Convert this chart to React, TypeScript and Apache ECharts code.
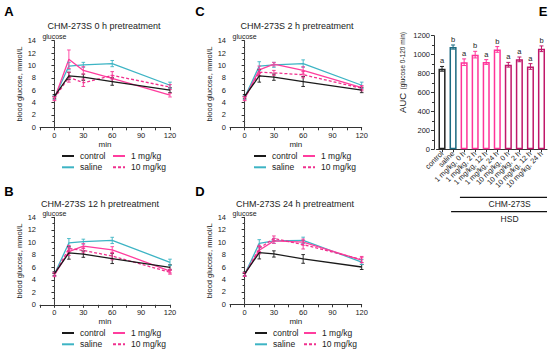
import React, { useEffect, useRef } from "react";
import * as echarts from "echarts";

// ---------- data ----------
const TIMES = [0, 15, 30, 60, 120];
const SERIES_NAMES = ["control", "saline", "1 mg/kg", "10 mg/kg"];
const PANEL_TITLES = [
  "CHM-273S 0 h pretreatment",
  "CHM-273S 2 h pretreatment",
  "CHM-273S 12 h pretreatment",
  "CHM-273S 24 h pretreatment",
];

// panel A (0 h)
const A_CONTROL = [5.0, 8.3, 8.1, 7.4, 6.0];
const A_SALINE = [4.8, 9.9, 10.1, 10.3, 6.8];
const A_1MG = [4.6, 11.0, 9.2, 7.9, 5.2];
const A_10MG = [4.7, 8.1, 7.2, 8.4, 6.5];
const A_CONTROL_SEM = [0.3, 0.6, 0.5, 0.6, 0.4];
const A_SALINE_SEM = [0.3, 0.6, 0.4, 0.5, 0.5];
const A_1MG_SEM = [0.3, 1.5, 0.6, 0.5, 0.3];
const A_10MG_SEM = [0.3, 0.8, 0.6, 0.6, 0.4];

// panel C (2 h)
const C_CONTROL = [5.0, 8.3, 8.1, 7.4, 6.0];
const C_SALINE = [4.8, 9.9, 10.1, 10.3, 6.8];
const C_1MG = [4.6, 9.3, 10.2, 9.2, 6.4];
const C_10MG = [4.7, 8.9, 8.8, 8.5, 6.3];
const C_CONTROL_SEM = [0.3, 1.0, 0.5, 0.8, 0.4];
const C_SALINE_SEM = [0.3, 0.7, 0.4, 0.6, 0.5];
const C_1MG_SEM = [0.3, 0.6, 0.3, 0.6, 0.3];
const C_10MG_SEM = [0.3, 0.5, 0.4, 0.5, 0.4];

// panel B (12 h)
const B_CONTROL = [5.0, 8.3, 8.1, 7.4, 6.0];
const B_SALINE = [4.9, 9.9, 10.1, 10.3, 6.8];
const B_1MG = [4.8, 8.5, 9.4, 8.8, 5.4];
const B_10MG = [4.9, 9.0, 8.7, 7.8, 5.2];
const B_CONTROL_SEM = [0.3, 1.0, 0.5, 0.8, 0.4];
const B_SALINE_SEM = [0.3, 0.7, 0.4, 0.5, 0.5];
const B_1MG_SEM = [0.3, 0.6, 0.4, 0.5, 0.3];
const B_10MG_SEM = [0.3, 0.5, 0.4, 0.6, 0.3];

// panel D (24 h)
const D_CONTROL = [4.9, 8.3, 8.1, 7.3, 6.0];
const D_SALINE = [4.8, 9.8, 10.2, 10.3, 6.8];
const D_1MG = [4.8, 8.7, 10.2, 10.0, 7.1];
const D_10MG = [4.8, 9.0, 10.6, 9.6, 7.2];
const D_CONTROL_SEM = [0.3, 1.0, 0.5, 0.7, 0.4];
const D_SALINE_SEM = [0.3, 0.6, 0.4, 0.5, 0.4];
const D_1MG_SEM = [0.3, 0.6, 0.4, 0.5, 0.4];
const D_10MG_SEM = [0.3, 0.5, 0.4, 0.7, 0.5];

// panel E (AUC)
const AUC_CATEGORIES = [
  "control",
  "saline",
  "1 mg/kg, 0 h",
  "1 mg/kg, 2 h",
  "1 mg/kg, 12 h",
  "1 mg/kg, 24 h",
  "10 mg/kg, 0 h",
  "10 mg/kg, 2 h",
  "10 mg/kg, 12 h",
  "10 mg/kg, 24 h",
];
const AUC_MEAN = [850, 1080, 920, 1000, 922, 1055, 893, 950, 875, 1062];
const AUC_SEM = [25, 22, 35, 35, 25, 30, 25, 25, 30, 30];
const AUC_LETTERS = ["a", "b", "a", "b", "a", "b", "a", "a", "a", "b"];
const AUC_GROUP = [0, 1, 2, 2, 2, 2, 3, 3, 3, 3];

const Y_TICKS = { min: 0, max: 14, interval: 2 };
const AUC_TICKS = { min: 0, max: 1200, interval: 200 };

// ---------- styles / layout ----------
const FONT = '"Liberation Sans", Arial, Helvetica, sans-serif';
const LINE_COLORS = ["#1a1a1a", "#3db4c4", "#ff3d9e", "#f0308e"];
const BAR_COLORS = ["#222222", "#1c6a80", "#ff3399", "#c0186a"];
const AXIS_COLOR = "#333";

const PANELS = [
  {
    means: [A_CONTROL, A_SALINE, A_1MG, A_10MG],
    sems: [A_CONTROL_SEM, A_SALINE_SEM, A_1MG_SEM, A_10MG_SEM],
  },
  {
    means: [C_CONTROL, C_SALINE, C_1MG, C_10MG],
    sems: [C_CONTROL_SEM, C_SALINE_SEM, C_1MG_SEM, C_10MG_SEM],
  },
  {
    means: [B_CONTROL, B_SALINE, B_1MG, B_10MG],
    sems: [B_CONTROL_SEM, B_SALINE_SEM, B_1MG_SEM, B_10MG_SEM],
  },
  {
    means: [D_CONTROL, D_SALINE, D_1MG, D_10MG],
    sems: [D_CONTROL_SEM, D_SALINE_SEM, D_1MG_SEM, D_10MG_SEM],
  },
];

const LAYOUT = [
  { grid: { left: 40, top: 40.7, width: 130, height: 86.6 }, title: [104, 26], letter: [9, 11, "A"], legend: [61, 112, 151.5] },
  { grid: { left: 230, top: 40.7, width: 131.7, height: 86.6 }, title: [297, 26], letter: [200, 11, "C"], legend: [253, 302, 151.5] },
  { grid: { left: 40, top: 217.3, width: 130, height: 87.5 }, title: [100, 204], letter: [9, 191, "B"], legend: [61, 112, 328.5] },
  { grid: { left: 230, top: 217.3, width: 131.7, height: 87 }, title: [295, 204], letter: [200, 191, "D"], legend: [254, 303, 328.5] },
];
const BAR_GRID = { left: 436.5, top: 35.7, width: 110.5, height: 113.6 };

function errRender(color: string, cap: number, lw: number) {
  return (params: any, api: any) => {
    const x = api.value(0);
    const y = api.value(1);
    const e = api.value(2);
    const hi = api.coord([x, y + e]);
    const lo = api.coord([x, y - e]);
    const st = { stroke: color, lineWidth: lw };
    return {
      type: "group",
      children: [
        { type: "line", shape: { x1: hi[0], y1: hi[1], x2: lo[0], y2: lo[1] }, style: st },
        { type: "line", shape: { x1: hi[0] - cap, y1: hi[1], x2: hi[0] + cap, y2: hi[1] }, style: st },
        { type: "line", shape: { x1: lo[0] - cap, y1: lo[1], x2: lo[0] + cap, y2: lo[1] }, style: st },
      ],
    };
  };
}

function buildOption() {
  const grids: any[] = [];
  const xAxes: any[] = [];
  const yAxes: any[] = [];
  const series: any[] = [];
  const legends: any[] = [];
  const graphics: any[] = [];

  const axisCommon = {
    axisLine: { show: true, lineStyle: { color: AXIS_COLOR, width: 1 } },
    axisTick: { show: true, length: 3, lineStyle: { color: AXIS_COLOR, width: 1 } },
    splitLine: { show: false },
  };

  PANELS.forEach((p, i) => {
    const L = LAYOUT[i];
    grids.push({ ...L.grid, containLabel: false });
    xAxes.push({
      ...axisCommon,
      type: "value",
      gridIndex: i,
      min: -15,
      max: 120,
      interval: 15,
      axisLabel: {
        fontSize: 7.5,
        fontFamily: FONT,
        color: "#222",
        margin: 4,
        formatter: (v: number) => (v >= 0 && v % 30 === 0 ? String(v) : ""),
      },
      name: "min",
      nameLocation: "middle",
      nameGap: 13,
      nameTextStyle: { fontSize: 8, fontFamily: FONT, color: "#222" },
    });
    yAxes.push({
      ...axisCommon,
      type: "value",
      gridIndex: i,
      min: Y_TICKS.min,
      max: Y_TICKS.max,
      interval: Y_TICKS.interval,
      minorTick: { show: true, splitNumber: 2, length: 2, lineStyle: { color: AXIS_COLOR } },
      axisLabel: { fontSize: 7.5, fontFamily: FONT, color: "#222", margin: 4 },
      name: "blood glucose, mmol/L",
      nameLocation: "middle",
      nameGap: 13.5,
      nameTextStyle: { fontSize: 7.5, fontFamily: FONT, color: "#222" },
    });

    SERIES_NAMES.forEach((name, s) => {
      series.push({
        type: "line",
        name,
        xAxisIndex: i,
        yAxisIndex: i,
        data: TIMES.map((t, k) => [t, p.means[s][k]]),
        symbol: "none",
        lineStyle: { color: LINE_COLORS[s], width: 1.3, type: s === 3 ? [3, 2] : "solid" },
        itemStyle: { color: LINE_COLORS[s] },
        z: 3 + (s === 0 ? 1 : 0),
        silent: true,
      });
      series.push({
        type: "custom",
        name: name + " SEM",
        xAxisIndex: i,
        yAxisIndex: i,
        data: TIMES.map((t, k) => [t, p.means[s][k], p.sems[s][k]]),
        encode: { x: 0, y: 1 },
        renderItem: errRender(LINE_COLORS[s], 1.8, 0.9),
        z: 4,
        silent: true,
      });
    });

    // glucose injection marker
    series.push({
      type: "custom",
      name: "glucose",
      xAxisIndex: i,
      yAxisIndex: i,
      data: [[0, Y_TICKS.max]],
      encode: { x: 0, y: 1 },
      clip: false,
      silent: true,
      z: 2,
      renderItem: (params: any, api: any) => {
        const b = api.coord([0, Y_TICKS.min]);
        const t = api.coord([0, api.value(1)]);
        return {
          type: "group",
          children: [
            {
              type: "line",
              shape: { x1: b[0], y1: b[1], x2: t[0], y2: t[1] },
              style: { stroke: "#555", lineWidth: 1, lineDash: [1, 1.5] },
            },
            {
              type: "text",
              x: t[0],
              y: t[1] - 0.5,
              style: {
                text: "glucose",
                fontSize: 7,
                fontFamily: FONT,
                fill: "#222",
                align: "center",
                verticalAlign: "bottom",
              },
            },
          ],
        };
      },
    });

    const [lx1, lx2, ly] = L.legend as number[];
    const legCommon = {
      orient: "vertical",
      top: ly,
      itemWidth: 12,
      itemHeight: 10,
      itemGap: 2.3,
      selectedMode: false,
      padding: 0,
      itemStyle: { opacity: 0 },
      textStyle: { fontSize: 8.5, fontFamily: FONT, color: "#222", padding: [0, 0, 0, 1] },
    };
    legends.push({ ...legCommon, left: lx1, data: [SERIES_NAMES[0], SERIES_NAMES[1]] });
    legends.push({ ...legCommon, left: lx2, data: [SERIES_NAMES[2], SERIES_NAMES[3]] });

    graphics.push({
      type: "text",
      x: L.title[0] as number,
      y: L.title[1] as number,
      style: {
        text: PANEL_TITLES[i],
        fontSize: 9,
        fontFamily: FONT,
        fill: "#222",
        align: "center",
        verticalAlign: "middle",
      },
    });
    graphics.push({
      type: "text",
      x: L.letter[0] as number,
      y: L.letter[1] as number,
      style: {
        text: L.letter[2] as string,
        fontSize: 13,
        fontWeight: "bold",
        fontFamily: FONT,
        fill: "#000",
        align: "center",
        verticalAlign: "middle",
      },
    });
  });

  // ----- panel E -----
  const bi = 4;
  grids.push({ ...BAR_GRID, containLabel: false });
  xAxes.push({
    ...axisCommon,
    type: "category",
    gridIndex: bi,
    data: AUC_CATEGORIES,
    axisTick: { show: true, length: 3, alignWithLabel: true, lineStyle: { color: AXIS_COLOR } },
    axisLabel: { interval: 0, rotate: 45, fontSize: 7.3, fontFamily: FONT, color: "#222", margin: 3 },
  });
  yAxes.push({
    ...axisCommon,
    type: "value",
    gridIndex: bi,
    offset: 2.5,
    min: AUC_TICKS.min,
    max: AUC_TICKS.max,
    interval: AUC_TICKS.interval,
    minorTick: { show: true, splitNumber: 2, length: 2, lineStyle: { color: AXIS_COLOR } },
    axisLabel: { fontSize: 7.5, fontFamily: FONT, color: "#222", margin: 4, formatter: (v: number) => String(v) },
    name: "{a|AUC} {b|(glucose 0-120 min)}",
    nameLocation: "middle",
    nameGap: 26,
    nameTextStyle: {
      fontFamily: FONT,
      color: "#222",
      padding: [0, 0, 0, 40],
      rich: {
        a: { fontSize: 9.5, fontFamily: FONT, color: "#222" },
        b: { fontSize: 6.5, fontFamily: FONT, color: "#222" },
      },
    },
  });
  const pxPerUnit = BAR_GRID.height / (AUC_TICKS.max - AUC_TICKS.min);
  series.push({
    type: "bar",
    name: "AUC",
    xAxisIndex: bi,
    yAxisIndex: bi,
    barWidth: "64%",
    silent: true,
    data: AUC_MEAN.map((v, k) => ({
      value: v,
      itemStyle: { color: "#fff", borderColor: BAR_COLORS[AUC_GROUP[k]], borderWidth: 1.5 },
      label: {
        show: true,
        position: "top",
        distance: AUC_SEM[k] * pxPerUnit + 1.5,
        formatter: AUC_LETTERS[k],
        fontSize: 7.5,
        fontFamily: FONT,
        color: "#222",
      },
    })),
  });
  series.push({
    type: "custom",
    name: "AUC SEM",
    xAxisIndex: bi,
    yAxisIndex: bi,
    silent: true,
    z: 5,
    data: AUC_MEAN.map((v, k) => [k, v, AUC_SEM[k]]),
    encode: { x: 0, y: 1 },
    renderItem: (params: any, api: any) => {
      const k = api.value(0);
      return errRender(BAR_COLORS[AUC_GROUP[k]], 2, 1)(params, api);
    },
  });
  // group brackets under the axis labels
  series.push({
    type: "custom",
    name: "groups",
    xAxisIndex: bi,
    yAxisIndex: bi,
    silent: true,
    clip: false,
    data: [[0, 0]],
    encode: { x: 0, y: 1 },
    renderItem: (params: any, api: any) => {
      const bw = api.size([1, 0])[0];
      const c1 = api.coord([1, 0]);
      const c2 = api.coord([2, 0]);
      const c9 = api.coord([AUC_CATEGORIES.length - 1, 0]);
      const right = c9[0] + bw / 2;
      const base = c1[1];
      const st = { stroke: "#111", lineWidth: 1.3 };
      const tx = (c2[0] + right) / 2 + 4;
      const txt = (text: string, y: number) => ({
        type: "text",
        x: tx,
        y,
        style: { text, fontSize: 8.5, fontFamily: FONT, fill: "#222", align: "center", verticalAlign: "middle" },
      });
      return {
        type: "group",
        children: [
          { type: "line", shape: { x1: c2[0] - 0.38 * bw, y1: base + 48, x2: right, y2: base + 48 }, style: st },
          txt("CHM-273S", base + 55),
          { type: "line", shape: { x1: c1[0] - 0.18 * bw, y1: base + 62.4, x2: right, y2: base + 62.4 }, style: st },
          txt("HSD", base + 69.5),
        ],
      };
    },
  });
  graphics.push({
    type: "text",
    x: 543,
    y: 11,
    style: { text: "E", fontSize: 13, fontWeight: "bold", fontFamily: FONT, fill: "#000", align: "center", verticalAlign: "middle" },
  });

  return {
    animation: false,
    backgroundColor: "#fff",
    textStyle: { fontFamily: FONT },
    grid: grids,
    xAxis: xAxes,
    yAxis: yAxes,
    legend: legends,
    series,
    graphic: graphics,
  };
}

export default function App() {
  const ref = useRef<HTMLDivElement>(null);
  useEffect(() => {
    const chart = echarts.init(ref.current as HTMLDivElement, undefined, { renderer: "svg" });
    chart.setOption(buildOption() as any);
    return () => chart.dispose();
  }, []);
  return (
    <div
      ref={ref}
      style={{ position: "absolute", left: 0, top: 0, width: 550, height: 351, background: "#fff" }}
    />
  );
}
